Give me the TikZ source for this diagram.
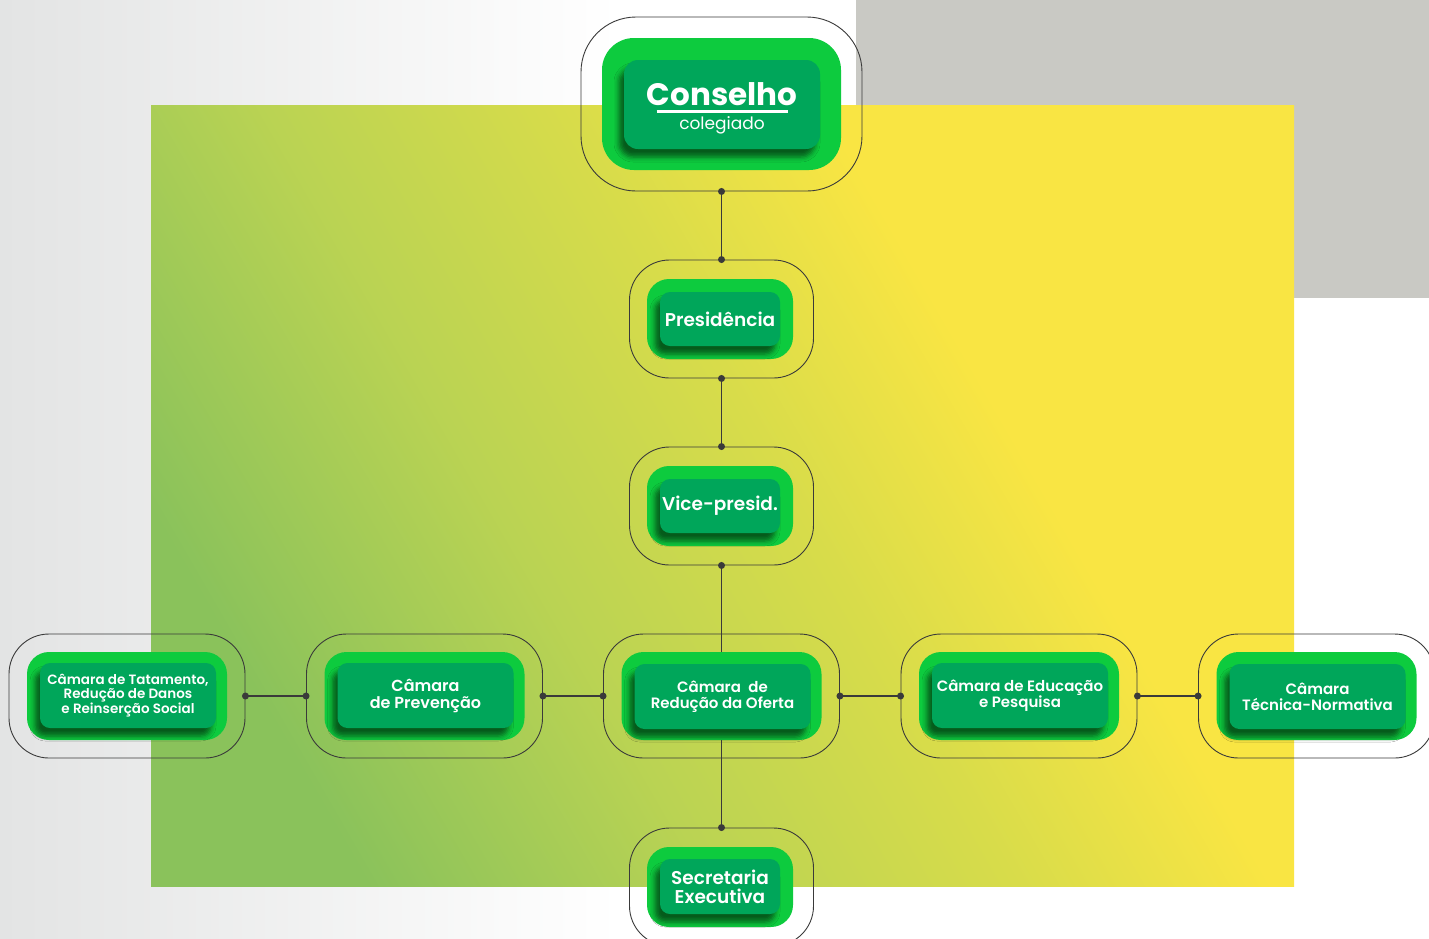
\documentclass[tikz,border=0pt]{standalone}
\usepackage{fontspec}
\setmainfont{Poppins}[BoldFont={Poppins SemiBold}]
\newfontfamily\pesada{Poppins Bold}
\usetikzlibrary{shadows.blur,positioning}

\definecolor{verdeclaro}{HTML}{0DCB3E}
\definecolor{verdeescuro}{HTML}{00A65A}
\definecolor{linha}{HTML}{3A3A3A}
\definecolor{cinzafundo}{HTML}{E3E4E4}
\definecolor{cinzatopo}{HTML}{C9C9C4}
\definecolor{gyA}{HTML}{8AC25B}
\definecolor{gyB}{HTML}{BAD353}
\definecolor{gyC}{HTML}{D8DC4A}
\definecolor{gyD}{HTML}{F9E543}
\pgfdeclarehorizontalshading{verdeamarelo}{100bp}{color(0bp)=(gyA); color(25bp)=(gyA); color(40bp)=(gyB); color(53bp)=(gyC); color(64bp)=(gyD); color(100bp)=(gyD)}

\begin{document}
\begin{tikzpicture}[x=1pt,y=-1pt,
  anel/.style={draw=linha, line width=0.9pt, rounded corners=40pt, minimum width=236pt, minimum height=124pt, inner sep=0pt},
  caixa/.style={fill=verdeclaro, rounded corners=22pt, minimum width=200pt, minimum height=88pt, inner sep=0pt},
  miolo/.style={fill=verdeescuro, rounded corners=10pt, minimum width=176pt, minimum height=65pt, inner sep=0pt,
    text=white, align=center, font=\fontsize{15}{16}\selectfont\bfseries,
    blur shadow={shadow xshift=-5pt, shadow yshift=-8pt, shadow blur radius=5pt, shadow opacity=55}},
  conexao/.style={draw=linha, line width=1.2pt},
  ponto/.style={fill=linha}]

\useasboundingbox (0,0) rectangle (1429,938);
\clip (0,0) rectangle (1429,938);

% Fundo
\fill[white] (0,0) rectangle (1429,938);
\shade[left color=cinzafundo, right color=white] (0,0) rectangle (620,938);
\fill[cinzatopo] (856,0) rectangle (1429,298);
\shade[shading=verdeamarelo, shading angle=30] (151,105) rectangle (1294,886);

% Aneis
\node[anel, minimum width=281pt, minimum height=174pt, rounded corners=55pt] (anelConselho) at (721.5,104) {};
\node[anel, minimum width=184pt, minimum height=118pt, rounded corners=40pt] (anelPresidencia) at (721.5,319) {};
\node[anel, minimum width=184pt, minimum height=118pt, rounded corners=40pt] (anelVice) at (721.5,506) {};
\node[anel, minimum width=184pt, minimum height=118pt, rounded corners=40pt] (anelSecretaria) at (721.5,887) {};
\node[anel] (anelTratamento) at (127,696) {};
\node[anel] (anelPrevencao) at (424.5,696) {};
\node[anel] (anelOferta) at (721.5,696) {};
\node[anel] (anelEducacao) at (1019,696) {};
\node[anel] (anelTecnica) at (1316.5,696) {};

% Conexoes
\draw[conexao] (anelConselho.south) -- (anelPresidencia.north);
\draw[conexao] (anelPresidencia.south) -- (anelVice.north);
\draw[conexao] (anelVice.south) -- (anelSecretaria.north);
\draw[conexao] (anelTratamento.east) -- (anelPrevencao.west);
\draw[conexao] (anelPrevencao.east) -- (anelOferta.west);
\draw[conexao] (anelOferta.east) -- (anelEducacao.west);
\draw[conexao] (anelEducacao.east) -- (anelTecnica.west);
\foreach \p in {anelConselho.south, anelPresidencia.north, anelPresidencia.south, anelVice.north, anelVice.south, anelSecretaria.north,
  anelTratamento.east, anelPrevencao.west, anelPrevencao.east, anelOferta.west, anelOferta.east, anelEducacao.west, anelEducacao.east, anelTecnica.west}
  \fill[ponto] (\p) circle (3.5pt);

% Conselho
\node[caixa, minimum width=239pt, minimum height=132pt, rounded corners=32pt] (caixaConselho) at (721.5,104) {};
\node[miolo, minimum width=196pt, minimum height=89pt, rounded corners=14pt] (conselho) at (722,104.5) {};
\node[text=white, align=center, inner sep=0pt] (tituloConselho) at (722,108.5)
  {{\fontsize{31}{30}\selectfont\pesada Conselho}\\[-5pt]\rule{131pt}{2.6pt}\\[3pt]{\fontsize{17}{18}\selectfont colegiado}};

% Presidencia e vice
\node[caixa, minimum width=146pt, minimum height=80pt] (caixaPresidencia) at (720,319) {};
\node[miolo, minimum width=120pt, minimum height=54pt, font=\fontsize{18.5}{19}\selectfont\bfseries] (presidencia) at (720,319) {Presidência};
\node[caixa, minimum width=146pt, minimum height=80pt] (caixaVice) at (720,506) {};
\node[miolo, minimum width=120pt, minimum height=54pt, font=\fontsize{18.5}{19}\selectfont\bfseries] (vice) at (720,506) {Vice-presid.};

% Camaras
\node[caixa] (caixaTratamento) at (127,696) {};
\node[miolo, font=\fontsize{13.5}{14}\selectfont\bfseries] (tratamento) at (128,695.5) {Câmara de Tatamento,\\Redução de Danos\\e Reinserção Social};
\node[caixa] (caixaPrevencao) at (424.5,696) {};
\node[miolo, font=\fontsize{16}{17}\selectfont\bfseries] (prevencao) at (425.5,695.5) {Câmara\\de Prevenção};
\node[caixa] (caixaOferta) at (721.5,696) {};
\node[miolo] (oferta) at (722.5,696.5) {Câmara\enspace de\\Redução da Oferta};
\node[caixa] (caixaEducacao) at (1019,696) {};
\node[miolo] (educacao) at (1020,695.5) {Câmara de Educação\\e Pesquisa};
\node[caixa] (caixaTecnica) at (1316.5,696) {};
\node[miolo] (tecnica) at (1317.5,696.5) {Câmara\\Técnica-Normativa};

% Secretaria
\node[caixa, minimum width=146pt, minimum height=80pt] (caixaSecretaria) at (720,887) {};
\node[miolo, minimum width=120pt, minimum height=55pt, font=\fontsize{18.5}{19}\selectfont\bfseries] (secretaria) at (720,886.5) {Secretaria\\Executiva};
\end{tikzpicture}
\end{document}
